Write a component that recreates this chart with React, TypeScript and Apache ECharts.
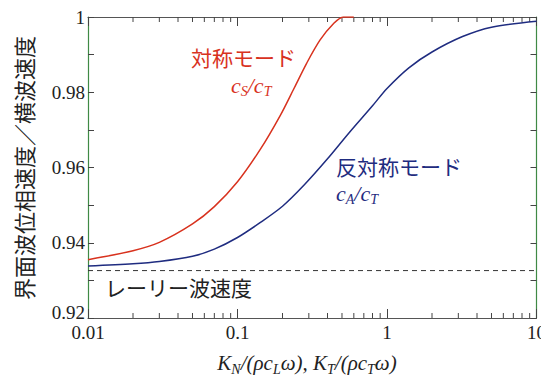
import React, { useEffect, useRef } from "react";
import * as echarts from "echarts";

// ---- data ----
const symX = [0.01, 0.02, 0.03, 0.05, 0.07, 0.1, 0.142, 0.193, 0.24, 0.29, 0.357, 0.438, 0.51, 0.6];
const symY = [0.9355, 0.9379, 0.9401, 0.945, 0.9496, 0.9562, 0.9648, 0.9738, 0.9812, 0.9877, 0.9939, 0.9982, 1.0, 1.0];

const antiX = [0.01, 0.02, 0.03, 0.05, 0.07, 0.1, 0.14, 0.2, 0.28, 0.4, 0.56, 0.8, 1.0, 1.4, 2, 3.2, 5, 10];
const antiY = [0.9338, 0.9344, 0.935, 0.9364, 0.9383, 0.9414, 0.9452, 0.9497, 0.9554, 0.9623, 0.9693, 0.9764, 0.981, 0.9865, 0.9907, 0.9948, 0.9973, 0.9989];

const rayleighX = [0.01, 10];
const rayleighY = [0.9326, 0.9326];

const xMinorTicks = [0.02, 0.03, 0.04, 0.05, 0.06, 0.07, 0.08, 0.09, 0.2, 0.3, 0.4, 0.5, 0.6, 0.7, 0.8, 0.9, 2, 3, 4, 5, 6, 7, 8, 9];
const xTickLabels = ["0.01", "0.1", "1", "10"];
const yMin = 0.92;
const yMax = 1;

const RED = "#d8321e";
const BLUE = "#1f2c80";
const SERIF = "Liberation Serif";
const JP = "Noto Sans CJK JP";

const zip = (xs: number[], ys: number[]) => xs.map((x, i) => [x, ys[i]]);

export default function App() {
  const ref = useRef<HTMLDivElement>(null);
  useEffect(() => {
    if (!ref.current) return;
    const chart = echarts.init(ref.current, undefined, { renderer: "svg" });
    const subRich = (color: string, base: number, sub: number) => ({
      i: { fontFamily: SERIF, fontStyle: "italic", fontSize: base, lineHeight: base + 5, verticalAlign: "middle", fill: color },
      s: { fontFamily: SERIF, fontStyle: "italic", fontSize: sub, lineHeight: sub, verticalAlign: "bottom", fill: color },
    });
    const fmtX = (v: number) => {
      const s = xTickLabels.find((t) => Math.abs(parseFloat(t) - v) < 1e-9 * Math.max(1, v));
      return s ? `{n|${s}}` : "";
    };
    const fmtY = (v: number) => {
      const k = Math.round(v * 100);
      if (k % 2 !== 0) return "";
      if (k === 92) return "{lo|0.92}";
      return `{n|${k === 100 ? "1" : (k / 100).toFixed(2)}}`;
    };
    const labelRich = {
      n: { fontFamily: SERIF, fontSize: 19, color: "#222" },
      lo: { fontFamily: SERIF, fontSize: 19, color: "#222", padding: [0, 0, 12, 0] },
    };
    const xCommon = {
      type: "log" as const,
      logBase: 10,
      min: 0.01,
      max: 10,
      splitLine: { show: false },
      axisLine: { show: true, lineStyle: { color: "#555", width: 1.2 } },
      axisTick: { show: true, inside: true, length: 9, lineStyle: { color: "#444" } },
    };
    const yCommon = {
      type: "value" as const,
      min: yMin,
      max: yMax,
      interval: 0.01,
      splitLine: { show: false },
      axisLine: { show: true, lineStyle: { color: "#3f8a45", width: 1.2 } },
      axisTick: { show: true, inside: true, length: 6, lineStyle: { color: "#444" } },
    };
    chart.setOption({
      animation: false,
      backgroundColor: "#ffffff",
      textStyle: { fontFamily: SERIF },
      grid: { left: 88, right: 10, top: 17, bottom: 65 },
      xAxis: [
        {
          ...xCommon,
          position: "bottom",
          axisLabel: { formatter: fmtX, fontFamily: SERIF, fontSize: 19, color: "#222", margin: 5, rich: labelRich },
        },
        {
          ...xCommon,
          position: "top",
          axisLabel: { show: false },
        },
      ],
      yAxis: [
        {
          ...yCommon,
          position: "left",
          axisLabel: { formatter: fmtY, fontFamily: SERIF, fontSize: 19, color: "#222", margin: 3, rich: labelRich },
        },
        {
          ...yCommon,
          position: "right",
          axisLabel: { show: false },
        },
      ],
      series: [
        {
          type: "line",
          data: zip(rayleighX, rayleighY),
          showSymbol: false,
          lineStyle: { color: "#333", width: 1, type: [5, 4] },
          z: 2,
        },
        {
          type: "line",
          data: zip(antiX, antiY),
          smooth: 0.3,
          showSymbol: false,
          lineStyle: { color: BLUE, width: 1.5 },
          z: 3,
        },
        {
          type: "line",
          data: zip(symX, symY),
          smooth: 0.3,
          showSymbol: false,
          lineStyle: { color: RED, width: 1.5 },
          z: 3,
        },
        {
          type: "custom",
          data: xMinorTicks.map((v) => [v]),
          encode: { x: 0 },
          silent: true,
          renderItem: (_p: any, api: any) => {
            const v = api.value(0);
            const b = api.coord([v, yMin]);
            const t = api.coord([v, yMax]);
            return {
              type: "group",
              children: [
                { type: "line", shape: { x1: b[0], y1: b[1], x2: b[0], y2: b[1] - 5 }, style: { stroke: "#444", lineWidth: 1 } },
                { type: "line", shape: { x1: t[0], y1: t[1], x2: t[0], y2: t[1] + 5 }, style: { stroke: "#444", lineWidth: 1 } },
              ],
            };
          },
        },
      ],
      graphic: [
        {
          type: "text",
          x: 23,
          y: 168,
          rotation: Math.PI / 2,
          style: { text: "界面波位相速度／横波速度", fontFamily: JP, fontSize: 22, fill: "#222", align: "center", verticalAlign: "middle" },
        },
        {
          type: "text",
          x: 307,
          y: 363,
          style: {
            text: "{i|K}{s|N}{i|/(ρc}{s|L}{i|ω), K}{s|T}{i|/(ρc}{s|T}{i|ω)}",
            rich: subRich("#222", 21, 14),
            align: "center",
            verticalAlign: "middle",
          },
        },
        {
          type: "text",
          x: 191,
          y: 57,
          style: { text: "対称モード", fontFamily: JP, fontSize: 21, fill: RED, align: "left", verticalAlign: "middle" },
        },
        {
          type: "text",
          x: 231,
          y: 85,
          style: { text: "{i|c}{s|S}{i|/c}{s|T}", rich: subRich(RED, 22, 14), align: "left", verticalAlign: "middle" },
        },
        {
          type: "text",
          x: 336,
          y: 166,
          style: { text: "反対称モード", fontFamily: JP, fontSize: 21, fill: BLUE, align: "left", verticalAlign: "middle" },
        },
        {
          type: "text",
          x: 336,
          y: 193,
          style: { text: "{i|c}{s|A}{i|/c}{s|T}", rich: subRich(BLUE, 22, 14), align: "left", verticalAlign: "middle" },
        },
        {
          type: "text",
          x: 105,
          y: 287,
          style: { text: "レーリー波速度", fontFamily: JP, fontSize: 21, fill: "#222", align: "left", verticalAlign: "middle" },
        },
      ],
    });
    return () => chart.dispose();
  }, []);
  return <div ref={ref} style={{ width: 549, height: 383, margin: -8 }} />;
}
